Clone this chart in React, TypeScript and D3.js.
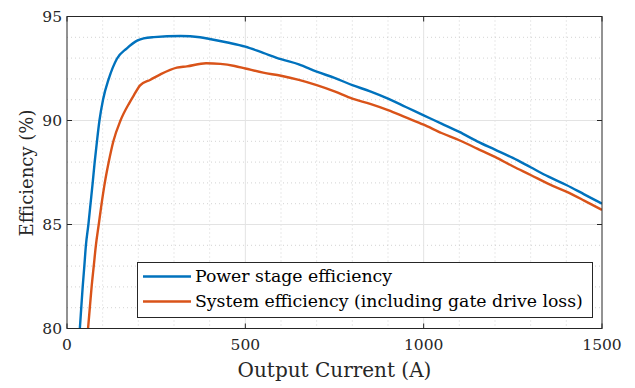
import { useEffect, useRef } from 'react';
import * as d3 from 'd3';

// output current (A) / efficiency (%)
const powerStageCurrent = [30, 36, 40, 44, 48.6, 53, 60, 66, 72, 77.6, 84, 91, 101, 117, 140, 168, 198, 215, 243, 318, 373, 400, 450, 500, 550, 600, 650, 700, 750, 800, 850, 900, 950, 1000, 1050, 1100, 1150, 1200, 1250, 1300, 1350, 1400, 1450, 1500];
const powerStageEff = [78.4, 80, 81, 82, 83, 84, 85, 86, 87, 88, 89, 90, 91, 92, 92.97, 93.47, 93.85, 93.95, 94.01, 94.06, 94.0, 93.92, 93.75, 93.55, 93.25, 92.95, 92.7, 92.35, 92.05, 91.7, 91.4, 91.05, 90.65, 90.25, 89.85, 89.45, 89.0, 88.6, 88.2, 87.75, 87.3, 86.9, 86.45, 86.0];

const systemCurrent = [54, 59, 64, 69, 75, 81, 89, 97, 106, 117, 130, 150, 175, 187, 205, 234, 262, 308, 336, 390, 430, 470, 500, 550, 600, 650, 700, 750, 800, 850, 900, 950, 1000, 1050, 1100, 1150, 1200, 1250, 1300, 1350, 1400, 1450, 1500];
const systemEff = [79, 80, 81, 82, 83, 84, 85, 86, 87, 88, 89, 90, 90.85, 91.2, 91.69, 91.96, 92.22, 92.54, 92.6, 92.75, 92.72, 92.62, 92.5, 92.3, 92.15, 91.95, 91.7, 91.4, 91.05, 90.8, 90.5, 90.15, 89.8, 89.4, 89.05, 88.65, 88.25, 87.8, 87.38, 86.95, 86.58, 86.15, 85.7];

const xTicks = [0, 500, 1000, 1500];
const yTicks = [80, 85, 90, 95];
const seriesNames = ['Power stage efficiency', 'System efficiency (including gate drive loss)'];
const seriesColors = ['#0072BD', '#D95319'];

const FONT = 'DejaVu Serif';

const App = () => {
  const svgRef = useRef(null);

  useEffect(() => {
    const width = 635;
    const height = 388;
    const margin = { top: 16.5, right: 33, bottom: 59.5, left: 67 };
    const w = width - margin.left - margin.right;
    const h = height - margin.top - margin.bottom;

    const svgRoot = d3.select(svgRef.current);
    svgRoot.selectAll('*').remove();
    svgRoot.attr('width', width).attr('height', height).attr('font-family', FONT);

    const svg = svgRoot.append('g').attr('transform', `translate(${margin.left},${margin.top})`);

    const x = d3.scaleLinear().domain([0, 1500]).range([0, w]);
    const y = d3.scaleLinear().domain([80, 95]).range([h, 0]);

    // minor grid (dotted)
    const xMinor = d3.range(100, 1500, 100).filter((v) => v % 500 !== 0);
    const yMinor = d3.range(81, 95, 1).filter((v) => v % 5 !== 0);
    svg
      .selectAll('.xminor')
      .data(xMinor)
      .enter()
      .append('line')
      .attr('x1', (d) => x(d))
      .attr('x2', (d) => x(d))
      .attr('y1', 0)
      .attr('y2', h)
      .attr('stroke', '#c8c8c8')
      .attr('stroke-width', 0.8)
      .attr('stroke-dasharray', '1,3');
    svg
      .selectAll('.yminor')
      .data(yMinor)
      .enter()
      .append('line')
      .attr('x1', 0)
      .attr('x2', w)
      .attr('y1', (d) => y(d))
      .attr('y2', (d) => y(d))
      .attr('stroke', '#c8c8c8')
      .attr('stroke-width', 0.8)
      .attr('stroke-dasharray', '1,3');

    // major grid
    svg
      .selectAll('.xmajor')
      .data(xTicks.slice(1, -1))
      .enter()
      .append('line')
      .attr('x1', (d) => x(d))
      .attr('x2', (d) => x(d))
      .attr('y1', 0)
      .attr('y2', h)
      .attr('stroke', '#e3e3e3')
      .attr('stroke-width', 1);
    svg
      .selectAll('.ymajor')
      .data(yTicks.slice(1, -1))
      .enter()
      .append('line')
      .attr('x1', 0)
      .attr('x2', w)
      .attr('y1', (d) => y(d))
      .attr('y2', (d) => y(d))
      .attr('stroke', '#e3e3e3')
      .attr('stroke-width', 1);

    // clip
    svg
      .append('clipPath')
      .attr('id', 'plot-clip')
      .append('rect')
      .attr('width', w)
      .attr('height', h);

    const line = d3
      .line<[number, number]>()
      .x((d) => x(d[0]))
      .y((d) => y(d[1]))
      .curve(d3.curveMonotoneX);

    const series: [number, number][][] = [
      powerStageCurrent.map((c, i) => [c, powerStageEff[i]]),
      systemCurrent.map((c, i) => [c, systemEff[i]]),
    ];

    series.forEach((s, i) => {
      svg
        .append('path')
        .datum(s)
        .attr('clip-path', 'url(#plot-clip)')
        .attr('fill', 'none')
        .attr('stroke', seriesColors[i])
        .attr('stroke-width', 2.4)
        .attr('stroke-linejoin', 'round')
        .attr('d', line);
    });

    // box + ticks
    const axisColor = '#262626';
    svg
      .append('rect')
      .attr('width', w)
      .attr('height', h)
      .attr('fill', 'none')
      .attr('stroke', axisColor)
      .attr('stroke-width', 1);

    const tickLen = 5;
    xTicks.forEach((t) => {
      svg.append('line').attr('x1', x(t)).attr('x2', x(t)).attr('y1', h).attr('y2', h - tickLen).attr('stroke', axisColor);
      svg.append('line').attr('x1', x(t)).attr('x2', x(t)).attr('y1', 0).attr('y2', tickLen).attr('stroke', axisColor);
      svg
        .append('text')
        .attr('x', x(t))
        .attr('y', h + 21.5)
        .attr('text-anchor', 'middle')
        .attr('fill', axisColor)
        .attr('font-size', 15.5)
        .text(t);
    });
    yTicks.forEach((t) => {
      svg.append('line').attr('x1', 0).attr('x2', tickLen).attr('y1', y(t)).attr('y2', y(t)).attr('stroke', axisColor);
      svg.append('line').attr('x1', w).attr('x2', w - tickLen).attr('y1', y(t)).attr('y2', y(t)).attr('stroke', axisColor);
      svg
        .append('text')
        .attr('x', -5)
        .attr('y', y(t))
        .attr('dy', '0.36em')
        .attr('text-anchor', 'end')
        .attr('fill', axisColor)
        .attr('font-size', 15.5)
        .text(t);
    });

    // axis labels
    svg
      .append('text')
      .attr('x', w / 2)
      .attr('y', h + 48.5)
      .attr('text-anchor', 'middle')
      .attr('fill', axisColor)
      .attr('font-size', 20)
      .text('Output Current (A)');
    svg
      .append('text')
      .attr('transform', `translate(${-34},${h / 2 + 0.5}) rotate(-90)`)
      .attr('text-anchor', 'middle')
      .attr('fill', axisColor)
      .attr('font-size', 18)
      .text('Efficiency (%)');

    // legend
    const legend = svg.append('g').attr('transform', `translate(${137.5 - margin.left},${262.5 - margin.top})`);
    legend
      .append('rect')
      .attr('width', 455)
      .attr('height', 55)
      .attr('fill', 'white')
      .attr('stroke', axisColor)
      .attr('stroke-width', 1);
    seriesNames.forEach((name, i) => {
      const ly = 14 + i * 25;
      legend
        .append('line')
        .attr('x1', 5.5)
        .attr('x2', 53.5)
        .attr('y1', ly)
        .attr('y2', ly)
        .attr('stroke', seriesColors[i])
        .attr('stroke-width', 2.4);
      legend
        .append('text')
        .attr('x', 57.5)
        .attr('y', ly)
        .attr('dy', '0.33em')
        .attr('fill', '#000')
        .attr('font-size', 17.3)
        .text(name);
    });
  }, []);

  return (
    <div style={{ position: 'absolute', left: 0, top: 0, background: 'white' }}>
      <svg ref={svgRef}></svg>
    </div>
  );
};

export default App;
